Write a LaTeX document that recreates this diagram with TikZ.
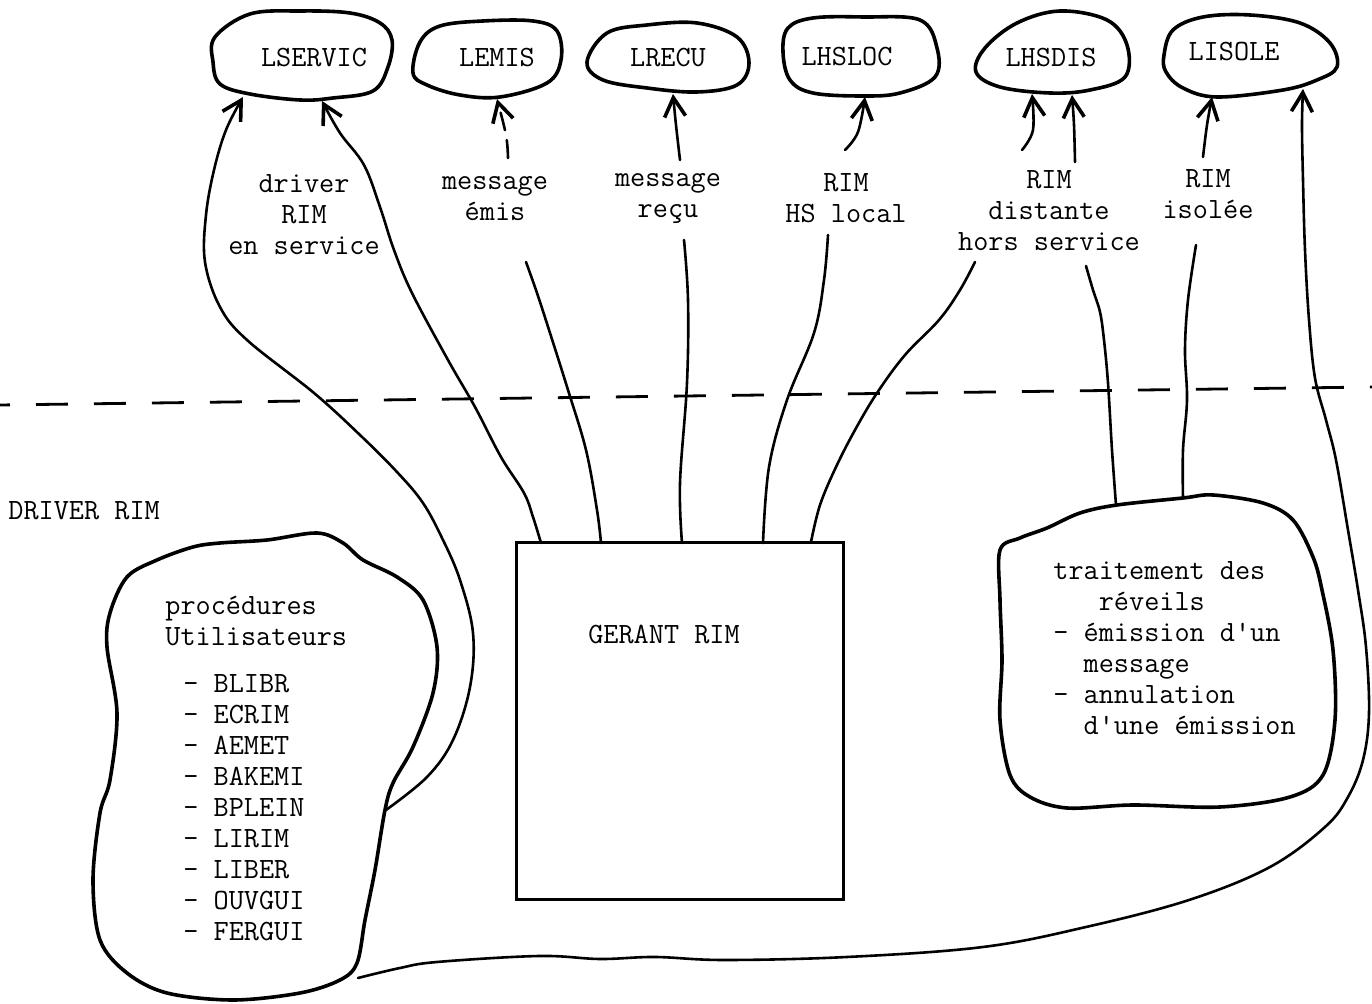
\documentclass[tikz,border=0pt]{standalone}
\usepackage{fontspec}
\usetikzlibrary{arrows.meta}
\begin{document}
\begin{tikzpicture}[x=0.5pt,y=-0.5pt,
  lbl/.style={font=\ttfamily\fontsize{14.7pt}{15.5pt}\selectfont, inner sep=0pt, align=center},
  cloud/.style={line width=1.8pt, line join=round},
  conn/.style={line width=1.3pt, line cap=round, line join=round},
  arr/.style={-{Straight Barb[length=9.5pt,width=10.5pt,line width=1.8pt]}},
  sep/.style={line width=1.4pt, dash pattern=on 16pt off 13pt, dash phase=11pt},
  boxst/.style={draw, line width=1.6pt, minimum width=163.5pt, minimum height=178.5pt, inner sep=0pt}]
\fill[white] (0,0) rectangle (1372,1004);
\useasboundingbox (0,0) rectangle (1372,1004);

% ---------- clouds ----------
\draw[cloud] plot[smooth cycle, tension=0.6] coordinates {(215,37) (250,14) (300,11) (350,13) (380,23) (392,40) (388,67) (373,91) (333,98) (300,100) (250,94) (220,84) (213,62)};
\draw[cloud] plot[smooth cycle, tension=0.6] coordinates {(413,73) (420,42) (440,26) (483,21) (533,21) (557,31) (561,60) (547,83) (500,97) (460,95) (427,85)};
\draw[cloud] plot[smooth cycle, tension=0.6] coordinates {(587,62) (607,33) (647,25) (697,23) (737,37) (749,63) (737,85) (697,92) (647,88) (603,80)};
\draw[cloud] plot[smooth cycle, tension=0.6] coordinates {(783,52) (788,28) (813,18) (863,17) (920,20) (937,48) (935,77) (900,93) (863,96) (813,93) (790,80)};
\draw[cloud] plot[smooth cycle, tension=0.6] coordinates {(976,72) (985,48) (1017,23) (1060,11) (1107,20) (1127,45) (1125,77) (1090,90) (1050,93) (1000,87)};
\draw[cloud] plot[smooth cycle, tension=0.6] coordinates {(1164,55) (1173,30) (1203,17) (1250,15) (1300,23) (1330,43) (1337,67) (1317,80) (1283,90) (1217,97) (1183,88) (1166,72)};
% procedures cloud
\draw[cloud] plot[smooth cycle, tension=0.55] coordinates {(127,577) (157,560) (193,547) (220,543) (267,540) (317,533) (343,543) (363,560) (397,577) (423,600) (437,647) (433,693) (413,747) (393,783) (385,810) (375,870) (365,920) (357,963) (340,980) (300,993) (233,1000) (167,993) (127,973) (100,940) (93,880) (100,813) (110,780) (117,713) (107,647) (110,613)};
% traitement cloud
\draw[cloud] plot[smooth cycle, tension=0.55] coordinates {(1000,550) (1020,538) (1047,528) (1080,513) (1117,505) (1183,498) (1213,495) (1263,503) (1293,520) (1313,557) (1322,590) (1333,650) (1335,720) (1323,775) (1290,797) (1220,807) (1133,805) (1067,808) (1030,797) (1010,775) (1000,720) (1002,660) (1000,600)};

% ---------- texts ----------
\node[lbl] (lservic) at (314,58) {LSERVIC};
\node[lbl] (lemis) at (497,58) {LEMIS};
\node[lbl] (lrecu) at (668,58) {LRECU};
\node[lbl] (lhsloc) at (847,57) {LHSLOC};
\node[lbl] (lhsdis) at (1051,58) {LHSDIS};
\node[lbl] (lisole) at (1234,52) {LISOLE};

\node[lbl] (t1) at (304,215) {driver\\RIM\\en service};
\node[lbl] (t2) at (495,199) {message\\émis};
\node[lbl] (t3) at (668,199) {message\\reçu};
\node[lbl] (t4) at (846,198) {RIM\\HS local};
\node[lbl] (t5) at (1049,211) {RIM\\distante\\hors service};
\node[lbl] (t6) at (1208,194) {RIM\\isolée};

\node[lbl, anchor=west] (drv) at (8,511) {DRIVER RIM};

\node[boxst] (gerant) at (680,721) {};
\node[lbl] (gerantt) at (664,634) {GERANT RIM};

\node[lbl, align=left, anchor=west] (proc) at (165,621) {procédures\\Utilisateurs};
\node[lbl, align=left, anchor=west] (procl) at (183,808) {- BLIBR\\- ECRIM\\- AEMET\\- BAKEMI\\- BPLEIN\\- LIRIM\\- LIBER\\- OUVGUI\\- FERGUI};
\node[lbl, align=left, anchor=west] (trait) at (1053,648) {traitement des\\\phantom{xxx}réveils\\- émission d'un\\\phantom{xx}message\\- annulation\\\phantom{xx}d'une émission};

% ---------- anchor coordinates ----------
\coordinate (ls-a) at (243,97);
\coordinate (ls-b) at (322,101);
\coordinate (em-a) at (497,99);
\coordinate (re-a) at (673,94);
\coordinate (lo-a) at (865,97);
\coordinate (hd-a) at (1032,94);
\coordinate (hd-b) at (1072,95);
\coordinate (is-a) at (1212,97);
\coordinate (is-b) at (1303,89);
\coordinate (g1) at (541,543);
\coordinate (g2) at (601,543);
\coordinate (g3) at (682,543);
\coordinate (g4) at (763,543);
\coordinate (g5) at (811,542);
\coordinate (tr-a) at (1116,505);
\coordinate (tr-b) at (1183,498);
\coordinate (pr-a) at (386,810);
\coordinate (pr-b) at (358,978);
% free ends near labels
\coordinate (em-l) at (526,262);
\coordinate (em-u) at (508,158);
\coordinate (re-l) at (684,240);
\coordinate (re-u) at (680,160);
\coordinate (lo-l) at (828,235);
\coordinate (lo-u) at (845,150);
\coordinate (hs-l) at (975,262);
\coordinate (hd-u) at (1022,150);
\coordinate (tr-l) at (1086,266);
\coordinate (hd-v) at (1075,162);
\coordinate (is-l) at (1196,245);
\coordinate (is-u) at (1203,157);

% ---------- connectors ----------
\draw[conn,arr] plot[smooth, tension=0.6] coordinates {(pr-a) (427,777) (453,740) (470,687) (473,633) (460,580) (443,540) (423,503) (397,472) (360,435) (314,393) (247,340) (220,307) (205,262) (206,215) (214,170) (226,130) (ls-a)};
\draw[conn,arr] plot[smooth, tension=0.6] coordinates {(g1) (533,517) (524,493) (501,457) (475,407) (448,360) (412,293) (394,250) (380,207) (364,165) (340,133) (ls-b)};
\draw[conn] plot[smooth, tension=0.6] coordinates {(g2) (597,510) (586,450) (568,390) (550,333) (537,293) (em-l)};
\draw[conn,arr,dash pattern=on 9pt off 5pt] plot[smooth, tension=0.6] coordinates {(em-u) (506,135) (em-a)};
\draw[conn] plot[smooth, tension=0.6] coordinates {(g3) (680,483) (687,383) (688,300) (re-l)};
\draw[conn,arr] plot[smooth, tension=0.6] coordinates {(re-u) (676,125) (re-a)};
\draw[conn] plot[smooth, tension=0.6] coordinates {(g4) (769,467) (787,400) (814,333) (824,280) (lo-l)};
\draw[conn,arr] plot[smooth, tension=0.6] coordinates {(lo-u) (858,132) (lo-a)};
\draw[conn] plot[smooth, tension=0.6] coordinates {(g5) (820,505) (836,467) (855,430) (877,393) (905,355) (939,320) (960,290) (hs-l)};
\draw[conn,arr] plot[smooth, tension=0.6] coordinates {(hd-u) (1033,130) (hd-a)};
\draw[conn] plot[smooth, tension=0.6] coordinates {(tr-a) (1112,450) (1108,383) (1104,340) (1100,312) (1093,290) (tr-l)};
\draw[conn,arr] plot[smooth, tension=0.6] coordinates {(hd-v) (1074,125) (hd-b)};
\draw[conn] plot[smooth, tension=0.6] coordinates {(tr-b) (1183,450) (1187,400) (1185,350) (1188,300) (is-l)};
\draw[conn,arr] plot[smooth, tension=0.6] coordinates {(is-u) (1207,125) (is-a)};
\draw[conn,arr] plot[smooth, tension=0.6] coordinates {(pr-b) (400,968) (437,962) (539,956) (600,959) (655,957) (724,960) (847,957) (983,947) (1086,927) (1189,900) (1270,867) (1325,827) (1348,797) (1363,760) (1369,713) (1366,647) (1358,590) (1348,530) (1336,460) (1326,420) (1315,378) (1309,320) (1305,250) (1303,180) (1302,125) (is-b)};

% ---------- separator ----------
\coordinate (dl) at (0,405);
\coordinate (dr) at (1372,387);
\draw[sep] (dl) -- (dr);
\end{tikzpicture}
\end{document}
